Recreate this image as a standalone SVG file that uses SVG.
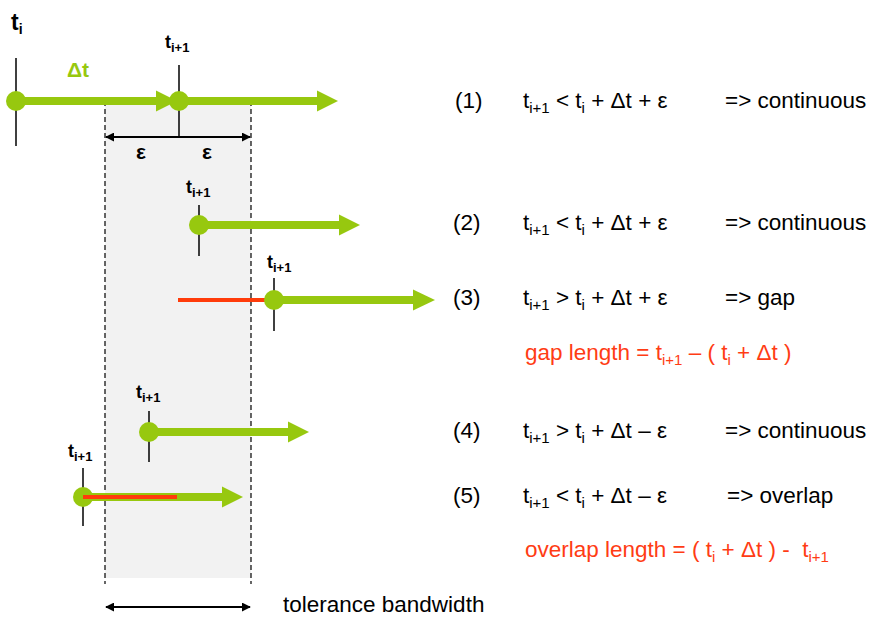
<svg xmlns="http://www.w3.org/2000/svg" width="869" height="617" viewBox="0 0 869 617">
<style>
text{font-family:"Liberation Sans",Arial,sans-serif;}
.g{stroke:#97c80f;stroke-width:8;fill:none;}
.gh{fill:#97c80f;}
.dot{fill:#97c80f;}
.tick{stroke:#000;stroke-width:1.5;}
.red{stroke:#ff3c0a;stroke-width:4;}
.dash{stroke:#000;stroke-width:1.2;stroke-dasharray:5,3;fill:none;}
.blk{stroke:#000;stroke-width:2;fill:none;}
.lbl{font-size:18px;font-weight:bold;fill:#000;}
.f{font-size:22.5px;fill:#000;}
.fr{font-size:22.5px;fill:#ff3c14;}
</style>
<defs>
<marker id="ah" viewBox="0 0 10 10" refX="9" refY="5" markerWidth="9" markerHeight="9" markerUnits="userSpaceOnUse" orient="auto-start-reverse">
<path d="M0,0 L10,5 L0,10 Z" fill="#000"/>
</marker>
</defs>
<rect x="105" y="101" width="146" height="477" fill="#f2f2f2"/>
<g id="band">
<line class="dash" x1="105" y1="101" x2="105" y2="584"/>
<line class="dash" x1="251" y1="101" x2="251" y2="584"/>
</g>
<g id="connectors">
<line class="g" x1="16" y1="101" x2="158" y2="101"/>
<polygon class="gh" points="156,90.5 177,101 156,111.5"/>
<line class="g" x1="179" y1="101" x2="320" y2="101"/>
<polygon class="gh" points="317,90.5 338,101 317,111.5"/>
<line class="blk" x1="106" y1="137" x2="250" y2="137" marker-start="url(#ah)" marker-end="url(#ah)"/>
<line class="tick" x1="179" y1="101" x2="179" y2="137"/>
<line class="g" x1="199" y1="225" x2="342" y2="225"/>
<polygon class="gh" points="339,214.5 360,225 339,235.5"/>
<line class="red" x1="178" y1="300" x2="274" y2="300"/>
<line class="g" x1="274" y1="300" x2="416" y2="300"/>
<polygon class="gh" points="413,289.5 435,300 413,310.5"/>
<line class="g" x1="149" y1="432" x2="291" y2="432"/>
<polygon class="gh" points="288,421.5 309,432 288,442.5"/>
<line class="g" x1="83" y1="497" x2="224" y2="497"/>
<polygon class="gh" points="222,486.5 243,497 222,507.5"/>
<line class="blk" x1="106" y1="607" x2="250" y2="607" marker-start="url(#ah)" marker-end="url(#ah)"/>
</g>
<g id="n1a">
<line class="tick" x1="16" y1="58" x2="16" y2="146"/>
<circle class="dot" cx="16" cy="101" r="10"/>
<text x="11" y="30" style="font-size:23px;font-weight:bold">t<tspan font-size="14" dy="4">i</tspan></text>
<text x="67" y="77" style="font-size:21px;font-weight:bold;fill:#97c80f">Δt</text>
</g>
<g id="n1b">
<line class="tick" x1="179" y1="65" x2="179" y2="101"/>
<circle class="dot" cx="179" cy="101" r="10"/>
<text class="lbl" x="165" y="48">t<tspan font-size="13" dy="4">i+1</tspan></text>
<text x="136" y="159" style="font-size:21px;font-weight:bold">ε</text>
<text x="202" y="159" style="font-size:21px;font-weight:bold">ε</text>
</g>
<g id="n2">
<line class="tick" x1="199" y1="205" x2="199" y2="256"/>
<circle class="dot" cx="199" cy="225" r="10"/>
<text class="lbl" x="186" y="193">t<tspan font-size="13" dy="4">i+1</tspan></text>
</g>
<g id="n3">
<line class="tick" x1="274" y1="278" x2="274" y2="331"/>
<circle class="dot" cx="274" cy="300" r="10"/>
<text class="lbl" x="267" y="268">t<tspan font-size="13" dy="4">i+1</tspan></text>
</g>
<g id="n4">
<line class="tick" x1="149" y1="411" x2="149" y2="462"/>
<circle class="dot" cx="149" cy="432" r="10"/>
<text class="lbl" x="136" y="398">t<tspan font-size="13" dy="4">i+1</tspan></text>
</g>
<g id="n5">
<line class="tick" x1="83" y1="468" x2="83" y2="526"/>
<circle class="dot" cx="83" cy="497" r="10"/>
<line class="red" x1="83" y1="497" x2="177" y2="497"/>
<text class="lbl" x="68" y="457">t<tspan font-size="13" dy="4">i+1</tspan></text>
</g>
<g id="rules">
<text class="f" x="455" y="108">(1)</text>
<text class="f" x="523" y="108">t<tspan font-size="15" dy="5">i+1</tspan><tspan dy="-5"> &lt; t</tspan><tspan font-size="15" dy="5">i</tspan><tspan dy="-5"> + Δt + ε</tspan></text>
<text class="f" x="725" y="108">=&gt; continuous</text>
<text class="f" x="453" y="230">(2)</text>
<text class="f" x="523" y="230">t<tspan font-size="15" dy="5">i+1</tspan><tspan dy="-5"> &lt; t</tspan><tspan font-size="15" dy="5">i</tspan><tspan dy="-5"> + Δt + ε</tspan></text>
<text class="f" x="725" y="230">=&gt; continuous</text>
<text class="f" x="453" y="305">(3)</text>
<text class="f" x="523" y="305">t<tspan font-size="15" dy="5">i+1</tspan><tspan dy="-5"> &gt; t</tspan><tspan font-size="15" dy="5">i</tspan><tspan dy="-5"> + Δt + ε</tspan></text>
<text class="f" x="725" y="305">=&gt; gap</text>
<text class="fr" x="525" y="360">gap length = t<tspan font-size="15" dy="5">i+1</tspan><tspan dy="-5"> – ( t</tspan><tspan font-size="15" dy="5">i</tspan><tspan dy="-5"> + Δt )</tspan></text>
<text class="f" x="453" y="438">(4)</text>
<text class="f" x="523" y="438">t<tspan font-size="15" dy="5">i+1</tspan><tspan dy="-5"> &gt; t</tspan><tspan font-size="15" dy="5">i</tspan><tspan dy="-5"> + Δt – ε</tspan></text>
<text class="f" x="725" y="438">=&gt; continuous</text>
<text class="f" x="453" y="503">(5)</text>
<text class="f" x="523" y="503">t<tspan font-size="15" dy="5">i+1</tspan><tspan dy="-5"> &lt; t</tspan><tspan font-size="15" dy="5">i</tspan><tspan dy="-5"> + Δt – ε</tspan></text>
<text class="f" x="727" y="503">=&gt; overlap</text>
<text class="fr" x="525" y="557">overlap length = ( t<tspan font-size="15" dy="5">i</tspan><tspan dy="-5"> + Δt ) - &#160;t</tspan><tspan font-size="15" dy="5">i+1</tspan></text>
<text class="f" x="283" y="612">tolerance bandwidth</text>
</g>
</svg>
